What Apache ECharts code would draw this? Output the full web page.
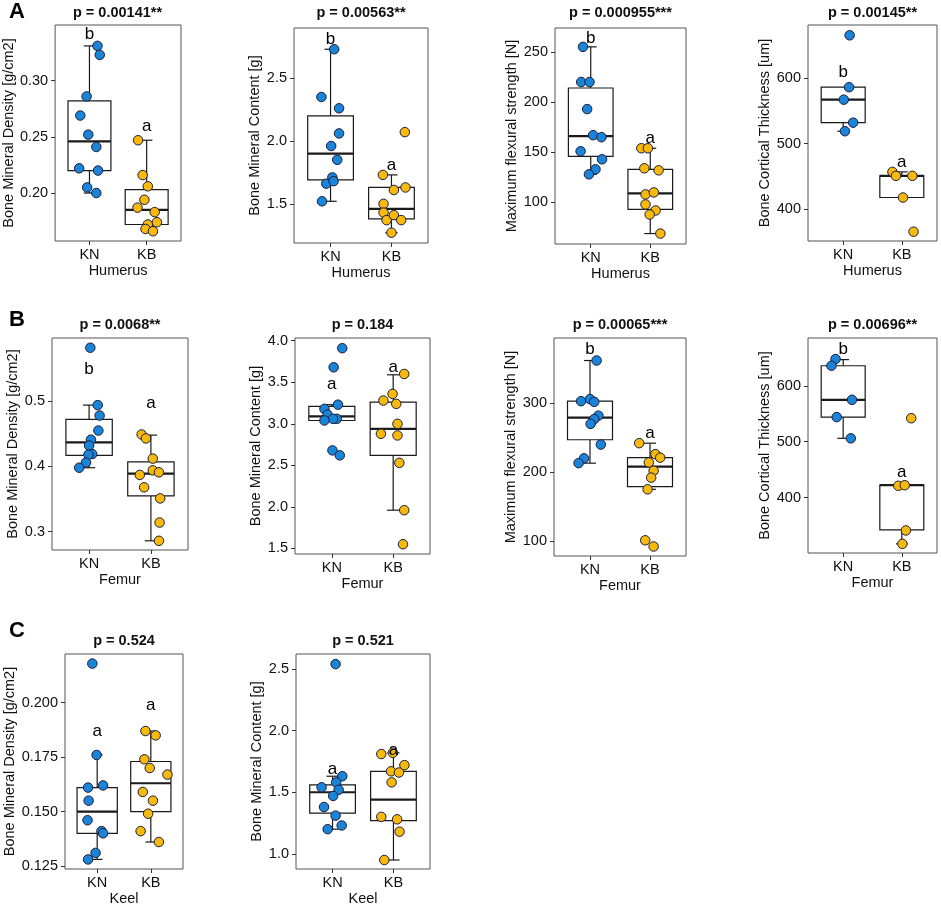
<!DOCTYPE html>
<html>
<head>
<meta charset="utf-8">
<script src="https://cdn.jsdelivr.net/npm/echarts@6/dist/echarts.min.js"></script>
<style>
  html, body { margin: 0; padding: 0; background: #fff; }
  #chart { width: 941px; height: 907px; }
</style>
</head>
<body>
<div id="chart"></div>
<script>
// groups on the x axis
const groups = ['KN', 'KB'];

// panel titles (p values) and axis names
const titles = ['p = 0.00141**', 'p = 0.00563**', 'p = 0.000955***', 'p = 0.00145**',
                'p = 0.0068**', 'p = 0.184', 'p = 0.00065***', 'p = 0.00696**',
                'p = 0.524', 'p = 0.521'];
const yNames = ['Bone Mineral Density [g/cm2]', 'Bone Mineral Content [g]',
                'Maximum flexural strength [N]', 'Bone Cortical Thickness [um]'];
const bones = ['Humerus', 'Femur', 'Keel'];

// Humerus - BMD
const humBmdKN = [0.331, 0.323, 0.286, 0.269, 0.252, 0.241, 0.222, 0.220, 0.205, 0.200];
const humBmdKB = [0.247, 0.216, 0.206, 0.194, 0.187, 0.183, 0.172, 0.174, 0.168, 0.166];
const humBmdJitKN = [0.14, 0.18, -0.05, -0.16, -0.02, 0.12, -0.18, 0.15, -0.04, 0.12];
const humBmdJitKB = [-0.15, -0.07, 0.02, -0.04, -0.16, 0.14, 0.02, 0.18, -0.02, 0.11];
const humBmdBox = [[0.200, 0.220, 0.246, 0.282, 0.331], [0.166, 0.172, 0.185, 0.203, 0.247]];
const humBmdLetters = [['b', 0.341], ['a', 0.259]];
const humBmdTicks = [0.20, 0.25, 0.30];
const humBmdRange = [0.1573, 0.3496];

// Humerus - BMC
const humBmcKN = [2.73, 2.35, 2.26, 2.06, 1.96, 1.85, 1.71, 1.66, 1.68, 1.52];
const humBmcKB = [2.07, 1.73, 1.63, 1.61, 1.50, 1.43, 1.37, 1.41, 1.37, 1.27];
const humBmcJitKN = [0.06, -0.15, 0.14, 0.14, 0.01, 0.11, 0.03, -0.07, 0.05, -0.14];
const humBmcJitKB = [0.22, -0.14, 0.23, 0.04, -0.13, -0.13, -0.08, 0.04, 0.16, 0.0];
const humBmcBox = [[1.52, 1.69, 1.90, 2.20, 2.73], [1.27, 1.38, 1.46, 1.63, 1.73]];
const humBmcLetters = [['b', 2.81], ['a', 1.81]];
const humBmcTicks = [1.5, 2.0, 2.5];
const humBmcRange = [1.188, 2.899];

// Humerus - flexural strength
const humMfsKN = [255, 220, 220, 193, 167, 165, 151, 143, 133, 128];
const humMfsKB = [154, 154, 134, 132, 108, 110, 98, 92, 88, 69];
const humMfsJitKN = [-0.13, -0.16, -0.02, -0.06, 0.04, 0.18, -0.17, 0.19, 0.08, -0.03];
const humMfsJitKB = [-0.15, -0.04, -0.10, 0.14, -0.08, 0.06, -0.08, 0.09, -0.01, 0.17];
const humMfsBox = [[128, 146, 166, 214, 255], [69, 93, 109, 133, 154]];
const humMfsLetters = [['b', 264], ['a', 164]];
const humMfsTicks = [100, 150, 200, 250];
const humMfsRange = [58.6, 273.8];

// Humerus - cortical thickness
const humBctKN = [665, 586, 567, 532, 519];
const humBctKB = [457, 451, 451, 418, 366];
const humBctJitKN = [0.11, 0.10, 0.01, 0.17, 0.03];
const humBctJitKB = [-0.16, -0.10, 0.18, 0.02, 0.20];
const humBctBox = [[519, 532, 567, 586, 586], [418, 418, 451, 451, 457]];
const humBctLetters = [['b', 608], ['a', 472]];
const humBctTicks = [400, 500, 600];
const humBctRange = [351.8, 680.7];

// Femur - BMD
const femBmdKN = [0.582, 0.494, 0.478, 0.455, 0.441, 0.432, 0.419, 0.418, 0.406, 0.398];
const femBmdKB = [0.449, 0.443, 0.412, 0.394, 0.391, 0.387, 0.368, 0.351, 0.314, 0.286];
const femBmdJitKN = [0.02, 0.14, 0.17, 0.15, 0.03, 0.0, 0.05, -0.01, -0.05, -0.16];
const femBmdJitKB = [-0.15, -0.08, 0.03, 0.03, 0.13, -0.18, -0.11, 0.15, 0.14, 0.13];
const femBmdBox = [[0.398, 0.417, 0.437, 0.472, 0.494], [0.286, 0.355, 0.389, 0.407, 0.448]];
const femBmdLetters = [['b', 0.549], ['a', 0.497]];
const femBmdTicks = [0.3, 0.4, 0.5];
const femBmdRange = [0.2719, 0.5969];

// Femur - BMC
const femBmcKN = [3.91, 3.68, 3.23, 3.18, 3.11, 3.06, 3.06, 3.04, 2.68, 2.62];
const femBmcKB = [3.60, 3.36, 3.28, 3.24, 3.00, 2.88, 2.86, 2.53, 1.96, 1.55];
const femBmcJitKN = [0.17, 0.03, 0.10, -0.12, -0.07, 0.08, 0.02, -0.12, 0.01, 0.13];
const femBmcJitKB = [0.18, -0.01, -0.16, 0.05, 0.07, -0.20, 0.07, 0.10, 0.18, 0.16];
const femBmcBox = [[3.04, 3.04, 3.09, 3.21, 3.23], [1.96, 2.62, 2.94, 3.26, 3.59]];
const femBmcLetters = [['a', 3.48], ['a', 3.68]];
const femBmcTicks = [1.5, 2.0, 2.5, 3.0, 3.5, 4.0];
const femBmcRange = [1.4325, 4.033];

// Femur - flexural strength
const femMfsKN = [362, 303, 306, 302, 282, 277, 270, 240, 220, 213];
const femMfsKB = [242, 226, 221, 214, 202, 192, 175, 101, 92];
const femMfsJitKN = [0.11, -0.15, 0.0, 0.07, 0.14, 0.07, 0.01, 0.18, -0.10, -0.19];
const femMfsJitKB = [-0.18, 0.09, 0.17, -0.02, 0.06, 0.02, -0.04, -0.08, 0.06];
const femMfsBox = [[213, 247, 279, 303, 362], [175, 179, 208, 221, 242]];
const femMfsLetters = [['b', 378], ['a', 256]];
const femMfsTicks = [100, 200, 300];
const femMfsRange = [78.2, 394.7];

// Femur - cortical thickness
const femBctKN = [648, 636, 575, 544, 506];
const femBctKB = [542, 421, 422, 341, 317];
const femBctJitKN = [-0.13, -0.20, 0.15, -0.11, 0.13];
const femBctJitKB = [0.16, -0.06, 0.05, 0.07, 0.01];
const femBctBox = [[506, 544, 575, 636, 647], [317, 342, 422, 422, 422]];
const femBctLetters = [['b', 666], ['a', 446]];
const femBctTicks = [400, 500, 600];
const femBctRange = [300.6, 685.7];

// Keel - BMD
const keelBmdKN = [0.218, 0.176, 0.161, 0.162, 0.155, 0.146, 0.141, 0.140, 0.131, 0.128];
const keelBmdKB = [0.187, 0.185, 0.174, 0.170, 0.167, 0.159, 0.155, 0.149, 0.141, 0.136];
const keelBmdJitKN = [-0.09, -0.01, -0.17, 0.11, -0.16, -0.18, 0.08, 0.11, -0.03, -0.17];
const keelBmdJitKB = [-0.10, 0.09, -0.12, -0.02, 0.31, -0.15, 0.04, -0.05, -0.19, 0.15];
const keelBmdBox = [[0.128, 0.140, 0.150, 0.161, 0.176], [0.136, 0.150, 0.163, 0.173, 0.187]];
const keelBmdLetters = [['a', 0.187], ['a', 0.199]];
const keelBmdTicks = [0.125, 0.150, 0.175, 0.200];
const keelBmdRange = [0.1236, 0.2224];

// Keel - BMC
const keelBmcKN = [2.54, 1.63, 1.58, 1.54, 1.52, 1.47, 1.38, 1.31, 1.23, 1.20];
const keelBmcKB = [1.81, 1.82, 1.72, 1.67, 1.66, 1.58, 1.30, 1.28, 1.18, 0.95];
const keelBmcJitKN = [0.05, 0.16, 0.06, -0.18, 0.10, 0.01, -0.14, 0.05, 0.15, -0.08];
const keelBmcJitKB = [-0.20, -0.01, 0.18, -0.04, 0.09, -0.03, -0.20, 0.06, 0.10, -0.15];
const keelBmcBox = [[1.20, 1.33, 1.50, 1.56, 1.63], [0.95, 1.27, 1.44, 1.67, 1.82]];
const keelBmcLetters = [['a', 1.69], ['a', 1.84]];
const keelBmcTicks = [1.0, 1.5, 2.0, 2.5];
const keelBmcRange = [0.877, 2.622];

const FONT = 'Liberation Sans, Arial, Helvetica, sans-serif';
const TXT = '#111';
const BLUE = '#1A84D8';
const GOLD = '#F7B90C';

// layout of each panel: grid [left, top, width, height], y name gap, decimals
const panels = [
  { kn: humBmdKN, kb: humBmdKB, jkn: humBmdJitKN, jkb: humBmdJitKB, box: humBmdBox, let: humBmdLetters, ticks: humBmdTicks, range: humBmdRange, dec: 2, y: 0, b: 0, g: [54, 25, 127, 216], gap: 35 },
  { kn: humBmcKN, kb: humBmcKB, jkn: humBmcJitKN, jkb: humBmcJitKB, box: humBmcBox, let: humBmcLetters, ticks: humBmcTicks, range: humBmcRange, dec: 1, y: 1, b: 0, g: [294, 28, 134, 215], gap: 30 },
  { kn: humMfsKN, kb: humMfsKB, jkn: humMfsJitKN, jkb: humMfsJitKB, box: humMfsBox, let: humMfsLetters, ticks: humMfsTicks, range: humMfsRange, dec: 0, y: 2, b: 0, g: [555, 28, 131, 216], gap: 33 },
  { kn: humBctKN, kb: humBctKB, jkn: humBctJitKN, jkb: humBctJitKB, box: humBctBox, let: humBctLetters, ticks: humBctTicks, range: humBctRange, dec: 0, y: 3, b: 0, g: [808, 25, 129, 216], gap: 34 },
  { kn: femBmdKN, kb: femBmdKB, jkn: femBmdJitKN, jkb: femBmdJitKB, box: femBmdBox, let: femBmdLetters, ticks: femBmdTicks, range: femBmdRange, dec: 1, y: 0, b: 1, g: [52, 338, 136, 212], gap: 30 },
  { kn: femBmcKN, kb: femBmcKB, jkn: femBmcJitKN, jkb: femBmcJitKB, box: femBmcBox, let: femBmcLetters, ticks: femBmcTicks, range: femBmcRange, dec: 1, y: 1, b: 1, g: [295, 338, 135, 216], gap: 31 },
  { kn: femMfsKN, kb: femMfsKB, jkn: femMfsJitKN, jkb: femMfsJitKB, box: femMfsBox, let: femMfsLetters, ticks: femMfsTicks, range: femMfsRange, dec: 0, y: 2, b: 1, g: [554, 338, 132, 218], gap: 32 },
  { kn: femBctKN, kb: femBctKB, jkn: femBctJitKN, jkb: femBctJitKB, box: femBctBox, let: femBctLetters, ticks: femBctTicks, range: femBctRange, dec: 0, y: 3, b: 1, g: [808, 338, 129, 215], gap: 34 },
  { kn: keelBmdKN, kb: keelBmdKB, jkn: keelBmdJitKN, jkb: keelBmdJitKB, box: keelBmdBox, let: keelBmdLetters, ticks: keelBmdTicks, range: keelBmdRange, dec: 3, y: 0, b: 2, g: [65, 654, 118, 216], gap: 44 },
  { kn: keelBmcKN, kb: keelBmcKB, jkn: keelBmcJitKN, jkb: keelBmcJitKB, box: keelBmcBox, let: keelBmcLetters, ticks: keelBmcTicks, range: keelBmcRange, dec: 1, y: 1, b: 2, g: [296, 654, 134, 216], gap: 28 }
];

// draws one box with whiskers and short caps, all through the axes
function renderBox(params, api) {
  const x = api.value(0);
  const lo = api.value(1), q1 = api.value(2), med = api.value(3), q3 = api.value(4), hi = api.value(5);
  const half = 0.375, cap = 0.1;
  const tl = api.coord([x - half, q3]);
  const br = api.coord([x + half, q1]);
  const mL = api.coord([x - half, med]);
  const mR = api.coord([x + half, med]);
  const top = api.coord([x, hi]);
  const bot = api.coord([x, lo]);
  const cL = api.coord([x - cap, hi])[0];
  const cR = api.coord([x + cap, hi])[0];
  const ls = { stroke: '#1a1a1a', lineWidth: 1.2 };
  const kids = [];
  if (hi > q3) {
    kids.push({ type: 'line', shape: { x1: top[0], y1: top[1], x2: top[0], y2: tl[1] }, style: ls });
    kids.push({ type: 'line', shape: { x1: cL, y1: top[1], x2: cR, y2: top[1] }, style: ls });
  }
  if (lo < q1) {
    kids.push({ type: 'line', shape: { x1: bot[0], y1: bot[1], x2: bot[0], y2: br[1] }, style: ls });
    kids.push({ type: 'line', shape: { x1: cL, y1: bot[1], x2: cR, y2: bot[1] }, style: ls });
  }
  kids.push({ type: 'rect', shape: { x: tl[0], y: tl[1], width: br[0] - tl[0], height: br[1] - tl[1] },
              style: { fill: '#fff', stroke: '#1a1a1a', lineWidth: 1.2 } });
  kids.push({ type: 'line', shape: { x1: mL[0], y1: mL[1], x2: mR[0], y2: mR[1] },
              style: { stroke: '#1a1a1a', lineWidth: 2.2 } });
  return { type: 'group', children: kids };
}

// significance letter placed at (group, value)
function renderLetter(params, api) {
  const p = api.coord([api.value(0), api.value(1)]);
  return {
    type: 'text', x: p[0], y: p[1],
    style: { text: params.context.letters[params.dataIndex], align: 'center', verticalAlign: 'middle',
             font: '17px ' + FONT, fill: '#000' }
  };
}

const grid = [], xAxis = [], yAxis = [], series = [], graphic = [];

panels.forEach((p, i) => {
  const [l, t, w, h] = p.g;
  grid.push({ left: l, top: t, width: w, height: h, show: true, borderColor: '#555', borderWidth: 1, backgroundColor: 'transparent' });
  xAxis.push({
    gridIndex: i, type: 'value', min: 0.4, max: 2.6,
    name: bones[p.b], nameLocation: 'middle', nameGap: 22,
    nameTextStyle: { fontSize: 14.5, color: TXT, fontFamily: FONT },
    axisLine: { show: false }, splitLine: { show: false },
    axisTick: { show: true, customValues: [1, 2], length: 4, lineStyle: { color: '#333' } },
    axisLabel: { customValues: [1, 2], formatter: v => groups[Math.round(v) - 1], fontSize: 14.5, color: TXT, margin: 6, fontFamily: FONT }
  });
  yAxis.push({
    gridIndex: i, type: 'value', min: p.range[0], max: p.range[1],
    name: yNames[p.y], nameLocation: 'middle', nameRotate: 90, nameGap: p.gap,
    nameTextStyle: { fontSize: 14.5, color: TXT, fontFamily: FONT },
    axisLine: { show: false }, splitLine: { show: false },
    axisTick: { show: true, customValues: p.ticks, length: 4, lineStyle: { color: '#333' } },
    axisLabel: { customValues: p.ticks, formatter: v => v.toFixed(p.dec), fontSize: 14.5, color: TXT, margin: 7, fontFamily: FONT }
  });
  series.push({
    type: 'custom', xAxisIndex: i, yAxisIndex: i, renderItem: renderBox, z: 2,
    encode: { x: 0, y: [1, 2, 3, 4, 5] },
    data: [[1].concat(p.box[0]), [2].concat(p.box[1])]
  });
  const pt = { symbol: 'circle', symbolSize: 9.5, z: 4 };
  series.push(Object.assign({
    type: 'scatter', xAxisIndex: i, yAxisIndex: i,
    itemStyle: { color: BLUE, borderColor: '#1d1d3a', borderWidth: 1, opacity: 1 },
    data: p.kn.map((v, k) => [1 + p.jkn[k], v])
  }, pt));
  series.push(Object.assign({
    type: 'scatter', xAxisIndex: i, yAxisIndex: i,
    itemStyle: { color: GOLD, borderColor: '#1d1d3a', borderWidth: 1, opacity: 1 },
    data: p.kb.map((v, k) => [2 + p.jkb[k], v])
  }, pt));
  const letters = p.let.map(d => d[0]);
  series.push({
    type: 'custom', xAxisIndex: i, yAxisIndex: i, z: 5, silent: true,
    renderItem: (params, api) => { params.context.letters = letters; return renderLetter(params, api); },
    encode: { x: 0, y: 1 },
    data: p.let.map((d, k) => [k + 1, d[1]])
  });
  graphic.push({
    type: 'text', x: l + w / 2, y: p.b === 0 ? 13 : (p.b === 1 ? 325 : 641),
    style: { text: titles[i], align: 'center', verticalAlign: 'middle', font: 'bold 14.5px ' + FONT, fill: TXT }
  });
});

['A', 'B', 'C'].forEach((s, k) => {
  graphic.push({
    type: 'text', x: 17, y: [12, 320, 631][k],
    style: { text: s, align: 'center', verticalAlign: 'middle', font: 'bold 22px ' + FONT, fill: '#000' }
  });
});

const chart = echarts.init(document.getElementById('chart'));
chart.setOption({
  animation: false,
  backgroundColor: '#fff',
  textStyle: { fontFamily: FONT },
  grid, xAxis, yAxis, series, graphic
});
</script>
</body>
</html>
